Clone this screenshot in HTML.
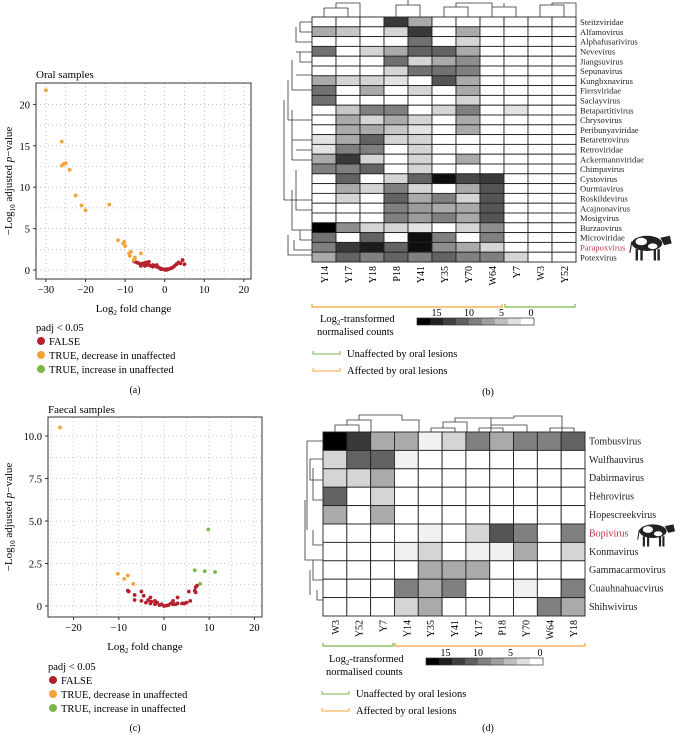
<!DOCTYPE html>
<html><head><meta charset="utf-8"><style>
body{margin:0;background:#fff}
svg{display:block;font-family:"Liberation Serif",serif}
</style></head><body>
<svg id="s" width="682" height="737" viewBox="0 0 682 737"></svg>
<script>
// ---- data ----
const oralDecX=[-30,-26,-26,-25.5,-25,-24,-22.5,-21,-20,-14,-11.8,-10.5,-10.2,-10,-9,-8.8,-8.5,-7.5,-6,-7.8];
const oralDecY=[21.7,15.5,12.6,12.8,12.9,12.1,9,7.8,7.2,7.9,3.6,3.2,3.4,2.9,2,1.7,2.2,1.5,2,1.2];
const oralFalseX=[-7.8,-7.5,-7,-6.5,-6,-5.5,-5,-4.5,-4,-4,-3.5,-3,-2.5,-2,-1.5,-1,-0.5,0,0.3,0.6,1,1.5,2,2.5,3,3.5,4,4.5,5,-5,-3,-2,-1,0.5,-6,-4.8];
const oralFalseY=[1.1,1.0,0.9,0.8,0.7,0.8,0.7,0.6,1.0,0.6,0.5,0.6,0.5,0.4,0.3,0.2,0.1,0.05,0,0.05,0.1,0.2,0.3,0.5,0.7,0.9,0.8,1.2,0.7,0.5,0.4,0.6,0.1,0.1,0.5,0.9];
const faeDecX=[-23,-10.2,-8,-8.8,-6.8];
const faeDecY=[10.5,1.9,1.8,1.6,1.3];
const faeIncX=[9.8,6.8,9,11.3,8];
const faeIncY=[4.5,2.1,2.05,2.0,1.3];
const faeFalseX=[-8,-7.8,-6.5,-6.5,-5,-4.5,-3,-2.8,-4,-3,-2,-1,0,1,2,3,4,5,3,2,5.5,5.8,7,7.3,7,6.8,-1.5,1.5,-5,-0.5,0.5,2.5,-2,4.5,-3.5];
const faeFalseY=[0.9,0.85,0.65,0.35,0.85,0.6,0.5,0.25,0.2,0.15,0.1,0.05,0,0.05,0.1,0.15,0.15,0.2,0.5,0.3,0.85,0.3,1.1,1.2,0.8,0.9,0.2,0.15,0.3,0.1,0.02,0.1,0.3,0.15,0.35];
const oralXTicks=[-30,-20,-10,0,10,20];
const oralYTicks=[0,5,10,15,20];
const faeXTicks=[-20,-10,0,10,20];
const faeYTicks=[0,2.5,5,7.5,10];
const faeYLabels=["0","2.5","5.0","7.5","10.0"];

const bCols=["Y14","Y17","Y18","P18","Y41","Y35","Y70","W64","Y7","W3","Y52"];
const bRows=["Steitzviridae","Alfamovirus","Alphafusarivirus","Nevevirus","Jiangsuvirus","Sepunavirus","Kungbxnavirus","Fiersviridae","Saclayvirus","Betapartitivirus","Chrysovirus","Peribunyaviridae","Betaretrovirus","Retroviridae","Ackermannviridae","Chimpavirus","Cystovirus","Ourmiavirus","Roskildevirus","Acajnonavirus","Mosigvirus","Burzaovirus","Microviridae","Parapoxvirus","Potexvirus"];
const bVals=[
[0,0,0,14,6,0,0,0,0,0,0],[6,4,0,3,14,0,6,0,0,0,0],[0,0,0,0,10,0,3,0,0,0,0],[10,0,3,6,11,11,6,0,0,0,0],
[0,0,0,10,3,6,8,0,0,0,0],[0,0,0,3,10,10,9,0,0,0,0],[6,3,3,2,0,12,6,0,0,0,0],[10,0,6,0,3,0,6,0,0,0,0],
[10,0,0,0,0,0,3,0,0,0,0],[0,4,9,9,0,3,9,0,2,0,0],[0,6,3,6,3,0,6,0,0,0,0],[0,6,6,4,2,0,6,0,0,0,0],
[2,6,11,3,3,0,0,0,0,0,0],[2,9,9,0,3,0,0,0,0,0,0],[6,14,3,0,3,0,6,0,0,0,0],[9,9,11,0,3,0,0,0,0,0,0],
[0,11,0,3,11,17,13,14,0,0,0],[0,6,3,9,3,0,6,12,0,0,0],[0,3,0,11,6,9,3,12,0,0,0],[0,0,0,9,7,6,6,12,0,0,0],
[0,0,0,9,7,9,6,12,0,0,0],[18,8,3,3,2,0,3,8,0,0,0],[10,0,11,0,17,9,0,9,0,0,0],[9,14,16,11,17,8,6,3,0,0,0],
[6,11,9,11,9,11,9,9,3,0,0]];
const dCols=["W3","Y52","Y7","Y14","Y35","Y41","Y17","P18","Y70","W64","Y18"];
const dRows=["Tombusvirus","Wulfhauvirus","Dabirmavirus","Hehrovirus","Hopescreekvirus","Bopivirus","Konmavirus","Gammacarmovirus","Cuauhnahuacvirus","Shihwivirus"];
const dVals=[
[18,14,6,6,1,3,9,6,9,9,11],[3,11,11,1,0,0,0,0,0,0,0],[3,3,6,0,0,0,0,0,0,0,0],[11,0,3,0,0,0,0,0,0,0,0],
[6,0,6,0,0,0,0,0,0,0,0],[0,0,0,0,1,0,3,12,9,0,9],[0,0,0,1,3,0,1,1,6,0,3],[0,0,0,0,6,6,6,0,0,0,0],
[0,0,0,9,6,9,0,0,1,0,9],[0,0,0,3,6,0,0,0,0,9,6]];
const scaleTicks=[15,10,5,0];

const S=document.getElementById('s');
const NS='http://www.w3.org/2000/svg';
function el(t,a,txt){const e=document.createElementNS(NS,t);for(const k in a)e.setAttribute(k,a[k]);if(txt!==undefined)e.textContent=txt;S.appendChild(e);return e;}
const RED='#b5202e',ORA='#f4a23a',GRN='#7ab648';

function volcano(o){
  const xs=v=>o.x0+v*o.kx, ys=v=>o.y0-v*o.ky;
  let t=el('text',{x:o.L,y:o.titleY,'font-size':11},o.title);
  
  
  for(let v=o.xmin;v<=o.xmax;v+=5){if(xs(v)<=o.L||xs(v)>=o.R)continue;const g=el('line',{x1:xs(v),x2:xs(v),y1:o.T,y2:o.B,stroke:'#999','stroke-width':0.6,'stroke-dasharray':'1 3'});}
  for(let v=o.ymin;v<=o.ymax;v+=o.ystep/2){if(ys(v)<=o.T)continue;const g=el('line',{x1:o.L,x2:o.R,y1:ys(v),y2:ys(v),stroke:'#999','stroke-width':0.6,'stroke-dasharray':'1 3'});}
  const b=el('rect',{x:o.L,y:o.T,width:o.R-o.L,height:o.B-o.T,fill:'none',stroke:'#333','stroke-width':1});
  
  o.xt.forEach(v=>{el('line',{x1:xs(v),x2:xs(v),y1:o.B,y2:o.B+3,stroke:'#333'});const tx=el('text',{x:xs(v),y:o.B+14,'font-size':10.5,'text-anchor':'middle'},v<0?'\u2212'+(-v):v);});
  o.yt.forEach((v,i)=>{el('line',{x1:o.L-3,x2:o.L,y1:ys(v),y2:ys(v),stroke:'#333'});const tx=el('text',{x:o.L-6,y:ys(v)+4,'font-size':10.5,'text-anchor':'end'},o.yl[i]);});
  const xl=el('text',{x:(o.L+o.R)/2-10,y:o.xlY,'font-size':11,'text-anchor':'middle'});
  xl.innerHTML='Log<tspan font-size="7" dy="3">2</tspan><tspan dy="-3"> fold change</tspan>';
  
  const yl=el('text',{x:0,y:0,'font-size':11,'text-anchor':'middle',transform:`translate(${o.ylX},${(o.T+o.B)/2}) rotate(-90)`});
  yl.innerHTML='\u2212Log<tspan font-size="7" dy="3">10</tspan><tspan dy="-3"> adjusted </tspan><tspan font-style="italic">p</tspan>\u2212value';
  
  o.series.forEach(s=>{s.x.forEach((v,i)=>{const c=el('circle',{cx:xs(v),cy:ys(s.y[i]),r:1.9,fill:s.c});});});
  let ly=o.legY;
  const lt=el('text',{x:o.L,y:ly,'font-size':10.5},'padj < 0.05');
  [[RED,'FALSE'],[ORA,'TRUE, decrease in unaffected'],[GRN,'TRUE, increase in unaffected']].forEach((d,i)=>{
    const y=ly+14*(i+1);
    const c=el('circle',{cx:o.L+5,cy:y-4,r:4,fill:d[0]});
    const tx=el('text',{x:o.L+13,y:y,'font-size':10.5},d[1]);
  });
  const pl=el('text',{x:135,y:o.panY,'font-size':10,'text-anchor':'middle'},o.pan);
}
volcano({L:36,R:251,T:83,B:279,x0:164.7,kx:3.96,y0:270,ky:8.28,xmin:-30,xmax:25,ymin:0,ymax:20,ystep:5,
 xt:oralXTicks,yt:oralYTicks,yl:oralYTicks.map(String),title:'Oral samples',titleY:78,xlY:312,ylX:12,legY:331,panY:393,pan:'(a)',
 series:[{x:oralFalseX,y:oralFalseY,c:RED,n:'point-false'},{x:oralDecX,y:oralDecY,c:ORA,n:'point-decrease'}]});
volcano({L:48,R:262,T:417,B:617,x0:164,kx:4.52,y0:606,ky:17,xmin:-25,xmax:25,ymin:0,ymax:10,ystep:2.5,
 xt:faeXTicks,yt:faeYTicks,yl:faeYLabels,title:'Faecal samples',titleY:413,xlY:650,ylX:12,legY:670,panY:731,pan:'(c)',
 series:[{x:faeFalseX,y:faeFalseY,c:RED,n:'point-false'},{x:faeDecX,y:faeDecY,c:ORA,n:'point-decrease'},{x:faeIncX,y:faeIncY,c:GRN,n:'point-increase'}]});

function gray(v){const g=Math.round(255*(1-Math.min(v,18)/18));return `rgb(${g},${g},${g})`;}
function heat(o){
  const cw=(o.R-o.L)/o.cols.length, rh=(o.B-o.T)/o.rows.length;
  o.vals.forEach((row,r)=>row.forEach((v,c)=>{
    const q=el('rect',{x:o.L+c*cw,y:o.T+r*rh,width:cw,height:rh,fill:gray(v),stroke:'#222','stroke-width':0.9});
    
  }));
  o.rows.forEach((n,r)=>{const t=el('text',{x:o.R+4,y:o.T+(r+0.5)*rh+3.2,'font-size':o.fs,fill:n===o.red?'#c2334a':'#222'},n);});
  o.cols.forEach((n,c)=>{const x=o.L+(c+0.5)*cw+4;const t=el('text',{x:0,y:0,'font-size':10,'text-anchor':'end',transform:`translate(${x},${o.B+4}) rotate(-90)`},n);});
  o.br.forEach(b=>{const p=el('path',{d:`M${b[0]},${o.brY-3}V${o.brY}H${b[1]}V${o.brY-3}`,fill:'none',stroke:b[2],'stroke-width':1.2});});
  const lt=el('text',{x:o.lx,y:o.ly,'font-size':10.5});lt.innerHTML='Log<tspan font-size="7" dy="3">2</tspan><tspan dy="-3">-transformed</tspan>';
  
  const l2=el('text',{x:o.lx-3,y:o.ly+13,'font-size':10.5},'normalised counts');
  const n=9,w=(o.sb[1]-o.sb[0])/n;
  for(let i=0;i<n;i++){const q=el('rect',{x:o.sb[0]+i*w,y:o.ly-4,width:w+0.3,height:7,fill:gray(18-i*18/(n-1)),stroke:'none'});}
  el('rect',{x:o.sb[0],y:o.ly-4,width:o.sb[1]-o.sb[0],height:7,fill:'none',stroke:'#333','stroke-width':0.7});
  scaleTicks.forEach(v=>{const x=o.sb[0]+(o.sb[1]-o.sb[0])*(1-v/18)*1.0-(v===0?3:0);const t=el('text',{x:x,y:o.ly-6,'font-size':10,'text-anchor':'middle'},v);});
  [[GRN,'Unaffected by oral lesions'],[ORA,'Affected by oral lesions']].forEach((d,i)=>{
    const y=o.ly+35+i*17;
    const p=el('path',{d:`M${o.lx-7},${y-6}V${y-3}H${o.lx+20}V${y-6}`,fill:'none',stroke:d[0],'stroke-width':1});
    const t=el('text',{x:o.lx+27,y:y,'font-size':10.5},d[1]);
  });
  const pl=el('text',{x:488,y:o.panY,'font-size':10,'text-anchor':'middle'},o.pan);
  const g=el('path',{d:o.dend,fill:'none',stroke:'#333','stroke-width':0.8});
}
heat({L:312,R:576,T:17,B:262,cols:bCols,rows:bRows,vals:bVals,fs:8.6,red:'Parapoxvirus',
 br:[[312,502,ORA],[505,575,GRN]],brY:307,lx:320,ly:322,sb:[417,534],panY:395,pan:'(b)',
 dend:'M324,17V8H348V17M336,8V3H360V17M348,3H360M396,17V5H420V17M408,5V0M444,17V7H468V17M456,7V3H492V17M492,3V3M492,17V7H516V17M504,7V3M540,17V5H564V17M552,5V3H576V17M300,22H312M300,22V32H312M296,27V42H312M296,52H312M300,52V62H312M292,60V90H312M296,75H312M296,90H312M288,120V80M288,120H312M292,110V140H312M296,150H312M292,125V160H312M284,100V200H312M296,170V210H312M292,190V230H312M300,230V240H312M294,240V250H312M288,235V255H312'});
heat({L:323,R:585,T:432,B:616,cols:dCols,rows:dRows,vals:dVals,fs:10,red:'Bopivirus',
 br:[[323,393,GRN],[395,585,ORA]],brY:646,lx:329,ly:662,sb:[426,543],panY:731,pan:'(d)',
 dend:'M335,432V425H359V432M347,425V420H371V432M359,420V415M359,415H402M402,415V420H419V432M431,432V428H455V432M443,428V422H467V432M455,422V418H491V432M491,418H514M479,432V428H503V432M491,428V425H527V432M514,418V416H562V432M550,432V428H574V432M323,441H307M307,441V530M310,459H323M310,459V480H323M313,480V500H323M313,468V490M305,500V560H323M313,530V545H323M313,560V580H323M317,590V600H323M310,570V595'});

function cow(x,y,s,name){
  const g=document.createElementNS(NS,'g');g.setAttribute('transform',`translate(${x},${y}) scale(${s})`);
  
  g.innerHTML='<ellipse cx="20" cy="12" rx="16" ry="8" fill="#222"/><ellipse cx="14" cy="10" rx="6" ry="4" fill="#fff"/><ellipse cx="26" cy="15" rx="5" ry="3" fill="#fff"/><path d="M34,6 L44,4 L46,12 L38,14Z" fill="#222"/><rect x="8" y="18" width="2.5" height="12" fill="#222"/><rect x="13" y="18" width="2.5" height="12" fill="#222"/><rect x="27" y="18" width="2.5" height="12" fill="#222"/><rect x="31" y="18" width="2.5" height="12" fill="#222"/><path d="M4,10 L2,22" stroke="#222" stroke-width="1.2"/>';
  S.appendChild(g);
}
cow(628,232,0.95,'cow-icon');
cow(636,521,0.85,'cow-icon');
</script>
</body></html>
